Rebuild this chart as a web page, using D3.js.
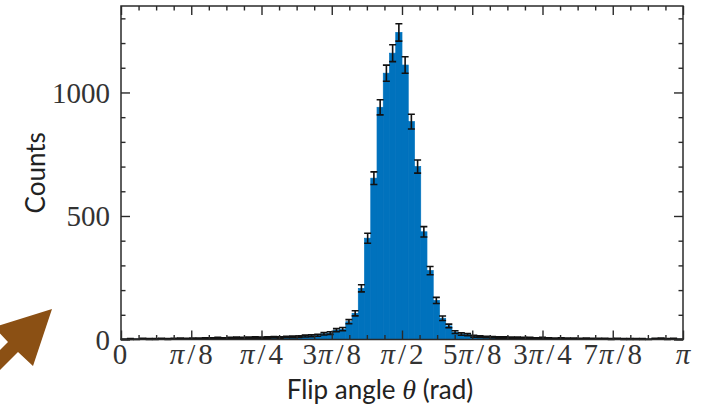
<!DOCTYPE html>
<html>
<head>
<meta charset="utf-8">
<script src="https://cdn.jsdelivr.net/npm/d3@7"></script>
<style>
  html, body { margin: 0; padding: 0; background: #fff; }
  svg { display: block; }
</style>
</head>
<body>
<svg id="chart" width="705" height="415"></svg>
<script>
// Histogram of flip angles: 90 bins of 2 degrees spanning 0..pi
const binCount = 90;
const counts = [
  1, 2, 1, 3, 2, 2, 3, 2, 3, 4,
  3, 4, 4, 5, 5, 6, 5, 6, 7, 6,
  7, 8, 7, 8, 9, 8, 10, 11, 12, 14,
  15, 17, 23, 26, 38, 42, 72, 106, 207, 410,
  653, 940, 1078, 1159, 1243, 1111, 882, 700, 436, 279,
  158, 86, 55, 30, 22, 20, 13, 12, 10, 9,
  8, 8, 7, 7, 6, 6, 5, 6, 5, 4,
  5, 4, 4, 3, 4, 3, 3, 3, 2, 3,
  2, 2, 2, 2, 1, 3, 4, 2, 3, 1
];
const xTickLabels = ["0", "π/8", "π/4", "3π/8", "π/2", "5π/8", "3π/4", "7π/8", "π"];
const yTicks = [0, 500, 1000];
const yMinorStep = 100;
const yMax = 1350;

const svg = d3.select("#chart");
const plotL = 121, plotR = 683, plotT = 6, plotB = 339.5;

const x = d3.scaleLinear().domain([0, Math.PI]).range([plotL, plotR]);
const y = d3.scaleLinear().domain([0, yMax]).range([plotB, plotT]);

const binW = Math.PI / binCount;
const bins = counts.map((c, i) => ({ x0: i * binW, x1: (i + 1) * binW, n: c }));

// decorative arrow in the lower-left corner
svg.append("path")
  .attr("d", "M52,309 L33,366 L18,352 L-30,400 L-50,400 L8,342 L-6,327 Z")
  .attr("fill", "#8B5014");

// bars
const barColor = "#0072BD";
svg.append("g").selectAll("rect").data(bins).join("rect")
  .attr("x", d => x(d.x0))
  .attr("width", d => x(d.x1) - x(d.x0))
  .attr("y", d => y(d.n))
  .attr("height", d => y(0) - y(d.n))
  .attr("fill", barColor)
  .attr("stroke", barColor)
  .attr("stroke-width", 0.7);

// Poisson error bars (sqrt N)
const eg = svg.append("g").attr("stroke", "#111").attr("stroke-width", 1.6).attr("fill", "none");
bins.forEach(d => {
  const cx = x((d.x0 + d.x1) / 2);
  const e = Math.sqrt(d.n);
  const y1 = y(d.n + e), y2 = y(Math.max(0, d.n - e));
  const cap = 3.5;
  eg.append("path")
    .attr("d", `M${cx},${y1}V${y2}M${cx - cap},${y1}H${cx + cap}M${cx - cap},${y2}H${cx + cap}`);
});

// axes: ticks point inward on all four sides
const xMajor = d3.range(0, 9).map(k => k * Math.PI / 8);
const xMinor = d3.range(0, 33).map(k => k * Math.PI / 32).filter((v, k) => k % 4 !== 0);
const yMinor = d3.range(0, yMax + 1, yMinorStep).filter(v => v % 500 !== 0);

const axisColor = "#2a2a2a";
function drawAxis(axis, transform) {
  const g = svg.append("g").attr("transform", transform).call(axis);
  g.select(".domain").remove();
  g.selectAll("text").remove();
  g.selectAll("line").attr("stroke", axisColor).attr("stroke-width", 1.4);
  return g;
}
drawAxis(d3.axisTop(x).tickValues(xMajor).tickSize(9).tickFormat(""), `translate(0,${plotB})`);
drawAxis(d3.axisTop(x).tickValues(xMinor).tickSize(4.5).tickFormat(""), `translate(0,${plotB})`);
drawAxis(d3.axisBottom(x).tickValues(xMajor).tickSize(9).tickFormat(""), `translate(0,${plotT})`);
drawAxis(d3.axisBottom(x).tickValues(xMinor).tickSize(4.5).tickFormat(""), `translate(0,${plotT})`);
drawAxis(d3.axisRight(y).tickValues(yTicks).tickSize(9).tickFormat(""), `translate(${plotL},0)`);
drawAxis(d3.axisRight(y).tickValues(yMinor).tickSize(4.5).tickFormat(""), `translate(${plotL},0)`);
drawAxis(d3.axisLeft(y).tickValues(yTicks).tickSize(9).tickFormat(""), `translate(${plotR},0)`);
drawAxis(d3.axisLeft(y).tickValues(yMinor).tickSize(4.5).tickFormat(""), `translate(${plotR},0)`);

// frame
svg.append("rect")
  .attr("x", plotL).attr("y", plotT)
  .attr("width", plotR - plotL).attr("height", plotB - plotT)
  .attr("fill", "none").attr("stroke", axisColor).attr("stroke-width", 1.5);

// tick labels
const serif = "'Liberation Serif', 'DejaVu Serif', serif";
const tickColor = "#333";
svg.append("g").selectAll("text").data(yTicks).join("text")
  .attr("x", plotL - 11)
  .attr("y", d => y(d))
  .attr("dy", "0.35em")
  .attr("text-anchor", "end")
  .attr("font-family", serif)
  .attr("font-size", 29)
  .attr("fill", tickColor)
  .text(d => d);

const xl = svg.append("g");
xTickLabels.forEach((lab, k) => {
  const t = xl.append("text")
    .attr("x", x(xMajor[k]) + (k === 0 ? -1 : 0))
    .attr("y", 364)
    .attr("text-anchor", "middle")
    .attr("font-family", serif)
    .attr("font-size", 29)
    .attr("fill", tickColor);
  lab.split("").forEach((ch, j) => {
    const s = t.append("tspan").text(ch);
    if (ch === "π") s.attr("font-style", "italic");
    if (ch === "π" && j > 0) s.attr("dx", 1);
    if (ch === "/") s.attr("dx", 3);
    if (j > 0 && lab[j - 1] === "/") s.attr("dx", 3);
  });
});

// axis titles
const sans = "Lato, 'Open Sans', sans-serif";
svg.append("text")
  .attr("transform", `translate(45,${(plotT + plotB) / 2}) rotate(-90)`)
  .attr("text-anchor", "middle")
  .attr("font-family", sans)
  .attr("font-size", 26)
  .attr("fill", "#222")
  .text("Counts");

const xt = svg.append("text")
  .attr("x", 380)
  .attr("y", 399)
  .attr("text-anchor", "middle")
  .attr("font-family", sans)
  .attr("font-size", 26)
  .attr("fill", "#222");
xt.append("tspan").text("Flip angle ");
xt.append("tspan").attr("font-family", serif).attr("font-style", "italic").attr("font-size", 28).text("θ");
xt.append("tspan").text(" (rad)");
</script>
</body>
</html>
